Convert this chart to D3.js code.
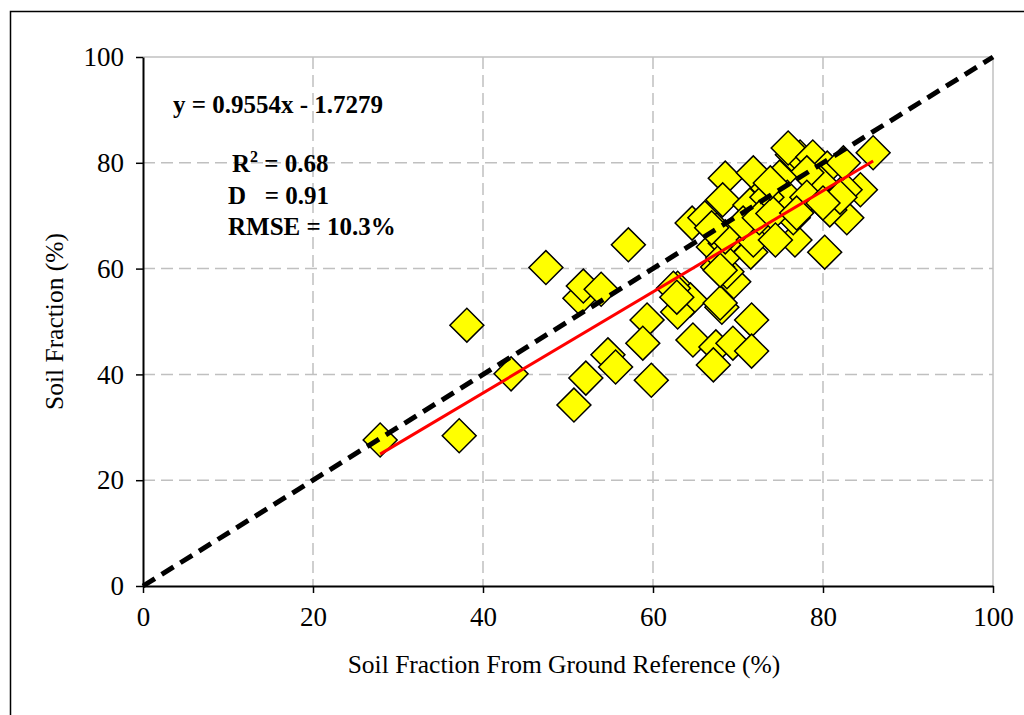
<!DOCTYPE html>
<html><head><meta charset="utf-8">
<script src="https://cdn.jsdelivr.net/npm/d3@7"></script>
<style>body{margin:0;background:#fff}svg{display:block}</style>
</head><body>
<svg id="c" width="1024" height="715"></svg>
<script>
const xTicks = [0, 20, 40, 60, 80, 100];
const yTicks = [0, 20, 40, 60, 80, 100];
const groundRef = [27.9,37.2,38.1,43.3,47.4,50.7,52.1,51.4,51.8,53.9,54.7,55.6,57.1,59.3,58.8,59.8,62.9,64.4,62.9,64.7,67.4,67.1,69.4,71.6,71.6,68.1,69.5,68.7,67.6,71.5,67.1,62.4,62.8,67.9,
  80.2,76.7,82.8,84.4,82.6,76.5,80.8,68.5,71.8,68.2,64.6,66.1,73.5,71.4,76.4,77.3,75.9,78.8,80.5,82.4,82.0,79.6,78.1,74.9,75.8,78.1,67.5,68.5,71.4,72.9,68.2,67.9,68.5,71.8,70.6,66.9,73.4,72.5,74.1,76.9,80.0,73.8,74.4,85.9];
const soilFrac = [27.6,28.4,49.3,40.1,60.2,34.2,39.3,54.4,56.7,56.1,43.7,41.4,64.5,50.3,45.9,38.9,56.3,54.1,51.8,46.5,45.2,41.8,45.9,50.3,44.4,52.7,57.5,59.4,60.3,63.1,64.1,56.3,54.6,53.5,
  63.1,65.4,69.6,74.9,74.9,69.6,71.1,77.1,78.1,73.0,68.6,69.6,75.2,72.0,81.5,81.1,82.8,81.1,79.0,80.0,73.5,76.4,78.1,77.3,73.5,73.5,67.3,64.8,67.9,68.6,62.0,59.7,66.0,65.4,68.6,67.7,73.5,69.6,70.4,70.5,72.4,76.2,65.4,81.9];
const slope = 0.9554, intercept = -1.7279;
const statsLines = ["R2", "D   = 0.91", "RMSE = 10.3%"];

const svg = d3.select("#c");
const L = 143, T = 57, W = 850, H = 529;
const x = d3.scaleLinear().domain([0,100]).range([L, L+W]);
const y = d3.scaleLinear().domain([0,100]).range([T+H, T]);
const serif = "'Liberation Serif','Times New Roman',serif";

// outer frame
svg.append("rect").attr("x",10.5).attr("y",11.5).attr("width",1030).attr("height",720)
  .attr("fill","none").attr("stroke","#000").attr("stroke-width",1.5);

// grid
const g = svg.append("g");
g.selectAll(".gx").data(xTicks.filter(d=>d>0)).join("line")
  .attr("x1",d=>x(d)).attr("x2",d=>x(d)).attr("y1",T).attr("y2",T+H)
  .attr("stroke","#c0c0c0").attr("stroke-width",1.5).attr("stroke-dasharray",d=>d===100?null:"12,6");
g.selectAll(".gy").data(yTicks.filter(d=>d>0)).join("line")
  .attr("x1",L).attr("x2",L+W).attr("y1",d=>y(d)).attr("y2",d=>y(d))
  .attr("stroke","#c0c0c0").attr("stroke-width",1.5).attr("stroke-dasharray",d=>d===100?null:"12,6");

// axes
const xa = svg.append("g").attr("transform",`translate(0,${T+H})`)
  .call(d3.axisBottom(x).tickValues(xTicks).tickSize(7).tickPadding(14).tickSizeOuter(0));
const ya = svg.append("g").attr("transform",`translate(${L},0)`)
  .call(d3.axisLeft(y).tickValues(yTicks).tickSize(7).tickPadding(12).tickSizeOuter(0));
[xa,ya].forEach(a=>{
  a.select(".domain").attr("stroke","#000").attr("stroke-width",2);
  a.selectAll(".tick line").attr("stroke","#000").attr("stroke-width",1.5);
  a.selectAll(".tick text").attr("font-family",serif).attr("font-size",27).attr("fill","#000");
});

// markers
const diamond = d3.symbol().type(d3.symbolSquare).size(24*24);
svg.append("g").selectAll("path").data(groundRef.map((v,i)=>[v,soilFrac[i]])).join("path")
  .attr("d",diamond)
  .attr("transform",d=>`translate(${x(d[0])},${y(d[1])}) rotate(45)`)
  .attr("fill","#ffff00").attr("stroke","#000").attr("stroke-width",1.5);

// 1:1 line
svg.append("line").attr("x1",x(0)).attr("y1",y(0)).attr("x2",x(100)).attr("y2",y(100))
  .attr("stroke","#000").attr("stroke-width",5).attr("stroke-dasharray","14,8");

// regression line
const xmin = d3.min(groundRef), xmax = d3.max(groundRef);
svg.append("line").attr("x1",x(xmin)).attr("y1",y(slope*xmin+intercept))
  .attr("x2",x(xmax)).attr("y2",y(slope*xmax+intercept))
  .attr("stroke","#ff0000").attr("stroke-width",3);

// annotations
const ann = svg.append("g").attr("font-family",serif).attr("font-weight","bold").attr("font-size",25).attr("fill","#000");
ann.append("text").attr("x",173).attr("y",113).text(`y = ${slope}x - ${Math.abs(intercept)}`);
const r2 = ann.append("text").attr("x",232).attr("y",172);
r2.append("tspan").text("R");
r2.append("tspan").attr("font-size",16).attr("dy",-10).text("2");
r2.append("tspan").attr("dy",10).text(" = 0.68");
ann.append("text").attr("x",228).attr("y",204).text(statsLines[1]).style("white-space","pre");
ann.append("text").attr("x",228).attr("y",235).text(statsLines[2]);

// axis titles
svg.append("text").attr("x",564).attr("y",673).attr("text-anchor","middle")
  .attr("font-family",serif).attr("font-size",25.5).text("Soil Fraction From Ground Reference (%)");
svg.append("text").attr("transform",`translate(63,${T+H/2}) rotate(-90)`).attr("text-anchor","middle")
  .attr("font-family",serif).attr("font-size",25.5).text("Soil Fraction (%)");
</script>
</body></html>
